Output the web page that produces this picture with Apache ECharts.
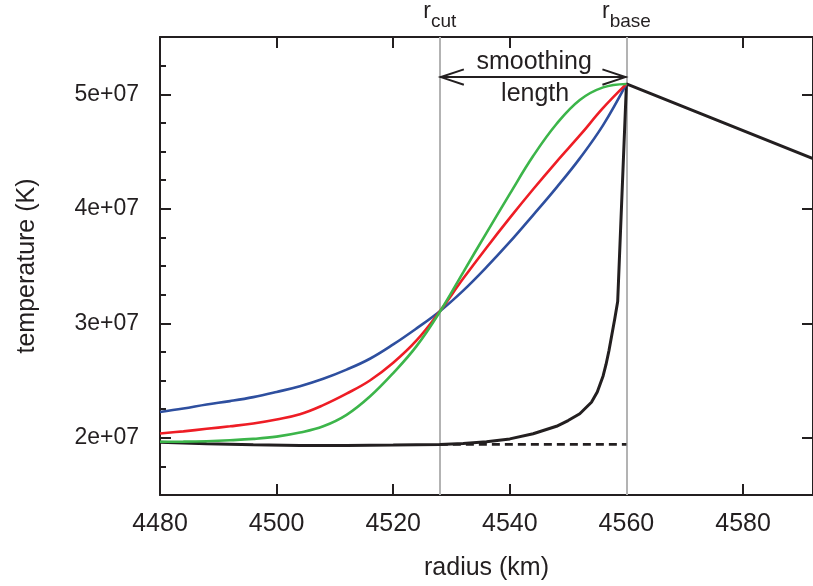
<!DOCTYPE html>
<html>
<head>
<meta charset="utf-8">
<script src="https://cdn.jsdelivr.net/npm/echarts@6/dist/echarts.min.js"></script>
<style>
  html, body { margin: 0; padding: 0; background: #ffffff; }
  #chart { width: 813px; height: 586px; }
</style>
</head>
<body>
<div id="chart"></div>
<script>
// ---- axis ticks ----
const xTicks = [4480, 4500, 4520, 4540, 4560, 4580];
const yTicks = [2e7, 3e7, 4e7, 5e7];
const yMinorTicks = [1.75e7, 2.25e7, 2.5e7, 2.75e7, 3.25e7, 3.5e7, 3.75e7, 4.25e7, 4.5e7, 4.75e7, 5.25e7];

// ---- smoothed profiles (radius in km, temperature in K) ----
const rSmooth = [4480, 4484, 4488, 4492, 4496, 4500, 4504, 4508, 4512, 4516, 4520, 4524, 4528, 4532, 4536, 4540, 4544, 4548, 4552, 4556, 4560];
const tBlue  = [2.225e7, 2.255e7, 2.29e7, 2.32e7, 2.355e7, 2.40e7, 2.45e7, 2.515e7, 2.595e7, 2.69e7, 2.815e7, 2.955e7, 3.105e7, 3.285e7, 3.49e7, 3.71e7, 3.945e7, 4.185e7, 4.44e7, 4.73e7, 5.09e7];
const tRed   = [2.037e7, 2.056e7, 2.078e7, 2.10e7, 2.125e7, 2.16e7, 2.205e7, 2.285e7, 2.385e7, 2.50e7, 2.655e7, 2.85e7, 3.105e7, 3.39e7, 3.66e7, 3.92e7, 4.17e7, 4.41e7, 4.64e7, 4.88e7, 5.09e7];
const tGreen = [1.965e7, 1.966e7, 1.97e7, 1.978e7, 1.99e7, 2.01e7, 2.045e7, 2.10e7, 2.20e7, 2.36e7, 2.565e7, 2.80e7, 3.10e7, 3.445e7, 3.79e7, 4.13e7, 4.46e7, 4.74e7, 4.95e7, 5.06e7, 5.09e7];

// ---- unsmoothed profile ----
const rBlack = [4480, 4488, 4496, 4504, 4512, 4520, 4528, 4532, 4536, 4540, 4544, 4548, 4550, 4552, 4554, 4555, 4556, 4556.5, 4557, 4557.5, 4558, 4558.5, 4560, 4592];
const tBlack = [1.96e7, 1.948e7, 1.938e7, 1.932e7, 1.932e7, 1.936e7, 1.942e7, 1.95e7, 1.965e7, 1.99e7, 2.035e7, 2.10e7, 2.15e7, 2.21e7, 2.31e7, 2.40e7, 2.54e7, 2.64e7, 2.76e7, 2.90e7, 3.04e7, 3.19e7, 5.09e7, 4.437e7];

// ---- dashed base level ----
const rDashed = [4528, 4560];
const tDashed = [1.942e7, 1.942e7];

// ---- annotations ----
const rCut = 4528;
const rBase = 4560;
const arrowT = 5.15e7;
const arrowTop = 'smoothing';
const arrowBottom = 'length';

const zip = (xs, ys) => xs.map((x, i) => [x, ys[i]]);
const INK = '#231f20';
const FONT = '"Liberation Sans", Arial, Helvetica, sans-serif';

function fmtExp(v) {
  const e = Math.floor(Math.log10(v) + 1e-9);
  const m = Math.round(v / Math.pow(10, e) * 100) / 100;
  return m + 'e+' + String(e).padStart(2, '0');
}

const chart = echarts.init(document.getElementById('chart'), null, { renderer: 'canvas' });

function renderArrow(params, api) {
  const a = api.coord([api.value(0), api.value(2)]);
  const b = api.coord([api.value(1), api.value(2)]);
  const L = 24, W = 7.7;
  const stroke = { stroke: INK, lineWidth: 2, fill: null };
  const midX = (a[0] + b[0]) / 2;
  return {
    type: 'group',
    children: [
      { type: 'line', shape: { x1: a[0], y1: a[1], x2: b[0], y2: b[1] }, style: stroke },
      { type: 'polyline', shape: { points: [[a[0] + L, a[1] - W], [a[0] + 1, a[1]], [a[0] + L, a[1] + W]] }, style: stroke },
      { type: 'polyline', shape: { points: [[b[0] - L, b[1] - W], [b[0] - 1, b[1]], [b[0] - L, b[1] + W]] }, style: stroke },
      { type: 'text', x: midX + 1, y: a[1] - 15, style: { text: arrowTop, fontSize: 25, fontFamily: FONT, fill: INK, align: 'center', verticalAlign: 'middle' } },
      { type: 'text', x: midX + 2, y: a[1] + 17, style: { text: arrowBottom, fontSize: 25, fontFamily: FONT, fill: INK, align: 'center', verticalAlign: 'middle' } }
    ]
  };
}

const option = {
  animation: false,
  backgroundColor: '#ffffff',
  textStyle: { fontFamily: FONT, color: INK },
  grid: { left: 160, top: 37, right: -6, bottom: 87, containLabel: false },
  xAxis: [
    {
      type: 'value', position: 'bottom', min: 4480, max: 4592,
      axisLine: { show: true, onZero: false, lineStyle: { color: INK, width: 2 } },
      axisTick: { show: true, inside: true, length: 11, customValues: xTicks, lineStyle: { color: INK, width: 2 } },
      axisLabel: { show: true, customValues: xTicks, fontSize: 25, margin: 17, color: INK, fontFamily: FONT, formatter: (v) => String(v) },
      splitLine: { show: false },
      name: 'radius (km)', nameLocation: 'middle', nameGap: 61,
      nameTextStyle: { fontSize: 25, color: INK, fontFamily: FONT }
    },
    {
      type: 'value', position: 'top', min: 4480, max: 4592,
      axisLine: { show: true, onZero: false, lineStyle: { color: INK, width: 2 } },
      axisTick: { show: true, inside: true, length: 11, customValues: xTicks, lineStyle: { color: INK, width: 2 } },
      axisLabel: { show: false },
      splitLine: { show: false }
    }
  ],
  yAxis: [
    {
      type: 'value', position: 'left', min: 1.5e7, max: 5.5e7,
      axisLine: { show: true, onZero: false, lineStyle: { color: INK, width: 2 } },
      axisTick: { show: true, inside: true, length: 11, customValues: yTicks, lineStyle: { color: INK, width: 2 } },
      axisLabel: { show: true, customValues: yTicks, fontSize: 23, margin: 21, color: INK, fontFamily: FONT, formatter: fmtExp },
      splitLine: { show: false },
      name: 'temperature (K)', nameLocation: 'middle', nameGap: 120, nameRotate: 90,
      nameTextStyle: { fontSize: 25, color: INK, fontFamily: FONT }
    },
    {
      type: 'value', position: 'left', offset: 0, min: 1.5e7, max: 5.5e7,
      axisLine: { show: false, onZero: false },
      axisTick: { show: true, inside: true, length: 6, customValues: yMinorTicks, lineStyle: { color: INK, width: 2 } },
      axisLabel: { show: false },
      splitLine: { show: false }
    },
    {
      type: 'value', position: 'right', min: 1.5e7, max: 5.5e7,
      axisLine: { show: true, onZero: false, lineStyle: { color: INK, width: 2 } },
      axisTick: { show: true, inside: true, length: 11, customValues: yTicks, lineStyle: { color: INK, width: 2 } },
      axisLabel: { show: false },
      splitLine: { show: false }
    }
  ],
  series: [
    {
      name: 'base', type: 'line', data: zip(rDashed, tDashed), showSymbol: false, z: 2,
      lineStyle: { color: INK, width: 2.6, type: [8, 5] },
      markLine: {
        silent: true, symbol: 'none', z: 1,
        lineStyle: { color: '#b3b3b3', width: 2, type: 'solid' },
        label: {
          show: true, position: 'end', distance: 6, color: INK, fontFamily: FONT,
          rich: {
            r: { fontSize: 23, verticalAlign: 'bottom', padding: [0, 0, 8, 0], color: INK, fontFamily: FONT },
            s: { fontSize: 19, verticalAlign: 'bottom', color: INK, fontFamily: FONT }
          }
        },
        data: [
          { xAxis: rCut, label: { formatter: '{r|r}{s|cut}' } },
          { xAxis: rBase, label: { formatter: '{r|r}{s|base}' } }
        ]
      }
    },
    {
      name: 'unsmoothed', type: 'line', data: zip(rBlack, tBlack), showSymbol: false, z: 3,
      lineStyle: { color: INK, width: 3 }
    },
    {
      name: 'blue', type: 'line', data: zip(rSmooth, tBlue), showSymbol: false, z: 4,
      smooth: 0.4,
      lineStyle: { color: '#2e4f9f', width: 2.6 }
    },
    {
      name: 'red', type: 'line', data: zip(rSmooth, tRed), showSymbol: false, z: 5,
      smooth: 0.4,
      lineStyle: { color: '#ee1d25', width: 2.6 }
    },
    {
      name: 'green', type: 'line', data: zip(rSmooth, tGreen), showSymbol: false, z: 6,
      smooth: 0.4,
      lineStyle: { color: '#3cb54a', width: 2.6 }
    },
    {
      name: 'arrow', type: 'custom', z: 7, silent: true, clip: false,
      renderItem: renderArrow,
      data: [[rCut, rBase, arrowT]]
    }
  ]
};

chart.setOption(option);
</script>
</body>
</html>
